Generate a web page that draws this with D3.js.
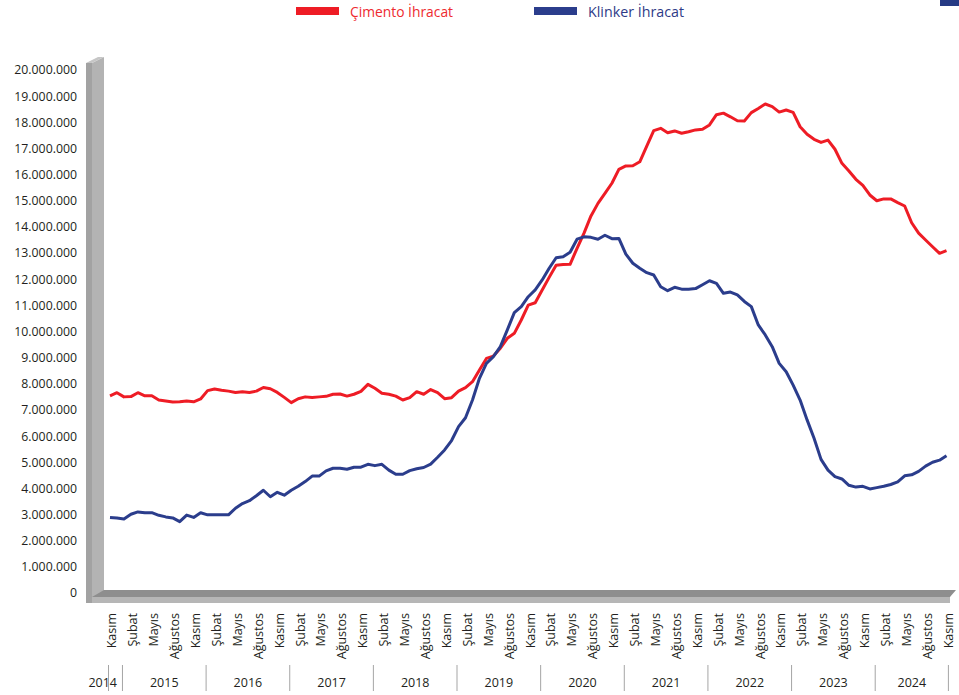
<!DOCTYPE html>
<html>
<head>
<meta charset="utf-8">
<script src="https://cdn.jsdelivr.net/npm/d3@7"></script>
<style>
	body { margin: 0; background: #fff; }
	text { font-family: "Open Sans", sans-serif; fill: #231f20; }
</style>
</head>
<body>
<svg id="chart" width="959" height="695"></svg>
<script>
// monthly values, million tons, Kasım 2014 .. Kasım 2024
const cimento = [
	7.54, 7.66, 7.50, 7.51, 7.66, 7.54, 7.54, 7.38, 7.34, 7.30,
	7.31, 7.34, 7.31, 7.42, 7.74, 7.80, 7.75, 7.72, 7.67, 7.70,
	7.67, 7.72, 7.86, 7.81, 7.67, 7.48, 7.28, 7.43, 7.50, 7.48,
	7.50, 7.52, 7.60, 7.61, 7.53, 7.60, 7.71, 7.98, 7.83, 7.64,
	7.60, 7.53, 7.38, 7.47, 7.70, 7.60, 7.78, 7.66, 7.43, 7.47,
	7.72, 7.85, 8.08, 8.53, 8.97, 9.06, 9.36, 9.74, 9.93, 10.44,
	11.01, 11.10, 11.59, 12.07, 12.53, 12.56, 12.57, 13.18, 13.76, 14.42,
	14.90, 15.28, 15.67, 16.20, 16.33, 16.34, 16.49, 17.09, 17.68, 17.77,
	17.60, 17.67, 17.58, 17.64, 17.71, 17.73, 17.90, 18.29, 18.35, 18.21,
	18.06, 18.05, 18.37, 18.53, 18.70, 18.60, 18.39, 18.47, 18.38, 17.83,
	17.54, 17.35, 17.23, 17.32, 16.97, 16.43, 16.14, 15.82, 15.59, 15.22,
	15.00, 15.07, 15.07, 14.93, 14.80, 14.16, 13.76, 13.50, 13.24, 12.99, 13.09
];
const klinker = [
	2.89, 2.87, 2.83, 3.01, 3.10, 3.07, 3.07, 2.97, 2.91, 2.87,
	2.73, 2.98, 2.89, 3.07, 2.99, 2.99, 2.99, 2.99, 3.24, 3.42,
	3.53, 3.72, 3.93, 3.68, 3.85, 3.74, 3.93, 4.08, 4.26, 4.47,
	4.47, 4.67, 4.77, 4.77, 4.73, 4.81, 4.81, 4.92, 4.87, 4.92,
	4.70, 4.54, 4.54, 4.68, 4.75, 4.80, 4.93, 5.19, 5.47, 5.83,
	6.36, 6.70, 7.38, 8.21, 8.78, 9.04, 9.42, 10.06, 10.72, 10.95,
	11.33, 11.59, 11.97, 12.42, 12.82, 12.86, 13.03, 13.53, 13.62, 13.60,
	13.53, 13.68, 13.55, 13.56, 12.96, 12.61, 12.42, 12.25, 12.16, 11.71,
	11.56, 11.69, 11.62, 11.62, 11.64, 11.79, 11.94, 11.84, 11.46, 11.51,
	11.40, 11.15, 10.95, 10.25, 9.87, 9.42, 8.78, 8.46, 7.95, 7.38,
	6.62, 5.92, 5.11, 4.70, 4.45, 4.36, 4.12, 4.05, 4.08, 3.98,
	4.03, 4.08, 4.15, 4.25, 4.48, 4.52, 4.65, 4.85, 5.00, 5.08, 5.25
];
const monthNames = ["Ocak", "Şubat", "Mart", "Nisan", "Mayıs", "Haziran",
	"Temmuz", "Ağustos", "Eylül", "Ekim", "Kasım", "Aralık"];
const firstMonth = 10; // Kasım
const years = ["2014", "2015", "2016", "2017", "2018", "2019", "2020", "2021", "2022", "2023", "2024"];
const yearMonths = [2, 12, 12, 12, 12, 12, 12, 12, 12, 12, 11];
const yTicks = d3.range(0, 21);
const series = [
	{name: "Çimento İhracat", values: cimento, color: "#ee1c25", textColor: "#ee2a2f"},
	{name: "Klinker İhracat", values: klinker, color: "#2b3d8c", textColor: "#2e3a87"}
];

const svg = d3.select("#chart");
const n = cimento.length;

const x = d3.scaleLinear().domain([0, n - 1]).range([110, 946.5]);
const lx = d3.scaleLinear().domain([0, n - 1]).range([112, 948.4]);
const y = d3.scaleLinear().domain([0, 20]).range([593, 70]);

const trFormat = d3.formatLocale({decimal: ",", thousands: ".", grouping: [3], currency: ["", ""]}).format(",");

// 3d floor and wall
const floor = svg.append("g");
floor.append("polygon")
	.attr("points", "86,597 98,590 956,590 950,597")
	.attr("fill", "#8e8e8e");
floor.append("rect")
	.attr("x", 86).attr("y", 597).attr("width", 864).attr("height", 6)
	.attr("fill", "#b6b6b6");

const wall = svg.append("g");
wall.append("polygon")
	.attr("points", "92,63 104,57 104,590 92,597")
	.attr("fill", "#b3b3b3");
wall.append("rect")
	.attr("x", 86).attr("y", 63).attr("width", 6).attr("height", 540)
	.attr("fill", "#a2a2a2");
wall.append("polygon")
	.attr("points", "86,63 98,57 104,57 92,63")
	.attr("fill", "#c6c6c6");

// y labels
svg.append("g")
	.selectAll("text")
	.data(yTicks)
	.join("text")
	.attr("x", 77)
	.attr("y", d => y(d))
	.attr("dy", "0.36em")
	.attr("text-anchor", "end")
	.attr("font-size", 12.3)
	.text(d => trFormat(Math.round(d * 1e6)));

// lines
const line = d3.line()
	.x((d, i) => x(i))
	.y(d => y(d));

svg.append("g")
	.selectAll("path")
	.data(series)
	.join("path")
	.attr("d", d => line(d.values))
	.attr("fill", "none")
	.attr("stroke", d => d.color)
	.attr("stroke-width", 3)
	.attr("stroke-linejoin", "round");

// month labels, every third month
const monthIdx = d3.range(0, n, 3);
svg.append("g")
	.selectAll("text")
	.data(monthIdx)
	.join("text")
	.attr("transform", i => `translate(${lx(i)},613) rotate(-90)`)
	.attr("dy", "0.35em")
	.attr("text-anchor", "end")
	.attr("font-size", 12.5)
	.text(i => monthNames[(firstMonth + i) % 12]);

// year groups
const starts = d3.cumsum([0].concat(yearMonths.slice(0, -1)));
const sepIdx = Array.from(starts, s => s - 0.5).concat([n - 1]);
svg.append("g")
	.selectAll("line")
	.data(sepIdx)
	.join("line")
	.attr("x1", d => lx(d)).attr("x2", d => lx(d))
	.attr("y1", 665).attr("y2", 691)
	.attr("stroke", "#a5a5a5")
	.attr("stroke-width", 1);

svg.append("g")
	.selectAll("text")
	.data(years)
	.join("text")
	.attr("x", (d, i) => i === 0 ? lx(0) + 5 : (lx(sepIdx[i]) + lx(sepIdx[i + 1])) / 2)
	.attr("y", 687)
	.attr("text-anchor", (d, i) => i === 0 ? "end" : "middle")
	.attr("font-size", 12.5)
	.text(d => d);

// legend
const legend = svg.append("g")
	.selectAll("g")
	.data(series)
	.join("g")
	.attr("transform", (d, i) => `translate(${[296, 534][i]},0)`);
legend.append("rect")
	.attr("x", 0).attr("y", 7).attr("width", 43).attr("height", 8)
	.attr("fill", d => d.color);
legend.append("text")
	.attr("x", 54).attr("y", 17)
	.attr("font-size", 15)
	.attr("textLength", (d, i) => [103, 96][i])
	.attr("lengthAdjust", "spacingAndGlyphs")
	.style("fill", d => d.textColor)
	.text(d => d.name);

svg.append("rect")
	.attr("x", 940).attr("y", 0).attr("width", 19).attr("height", 6)
	.attr("fill", "#263a84");
</script>
</body>
</html>
